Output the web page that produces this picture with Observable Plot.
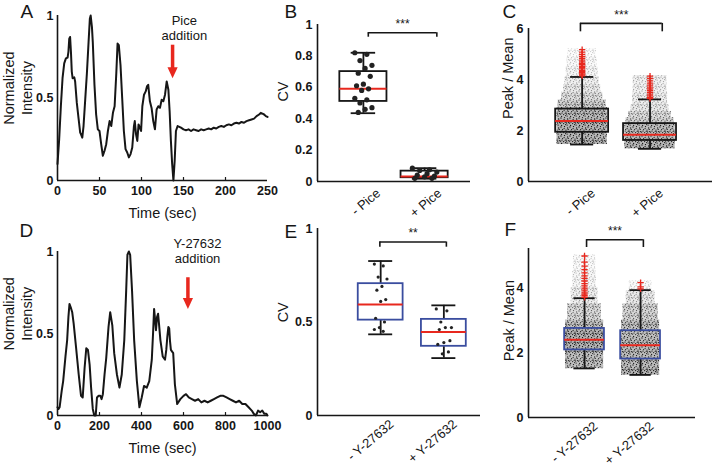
<!DOCTYPE html>
<html><head><meta charset="utf-8">
<script src="https://cdn.jsdelivr.net/npm/d3@7"></script>
<script src="https://cdn.jsdelivr.net/npm/@observablehq/plot@0.6"></script>
<style>
body{margin:0;background:#fff;}
#fig{position:relative;width:712px;height:470px;overflow:hidden;background:#fff;}
#fig svg{position:absolute;}
#fig g[aria-label$="tick label"]{font-weight:bold;}
</style></head><body>
<svg width="0" height="0" style="position:absolute;left:0;top:0">
 <defs>
  <pattern id="speck" width="9" height="9" patternUnits="userSpaceOnUse">
   <g fill="#111">
    <circle cx="1" cy="1" r="0.65"/><circle cx="4.5" cy="0.6" r="0.65"/><circle cx="7.6" cy="2" r="0.65"/>
    <circle cx="2.6" cy="3.6" r="0.65"/><circle cx="6" cy="4.1" r="0.65"/><circle cx="8.5" cy="5.6" r="0.65"/>
    <circle cx="0.6" cy="6.1" r="0.65"/><circle cx="3.6" cy="6.6" r="0.65"/><circle cx="5.6" cy="7.6" r="0.65"/>
    <circle cx="1.6" cy="8.5" r="0.65"/><circle cx="7.1" cy="8.1" r="0.65"/><circle cx="4.1" cy="2.6" r="0.65"/>
    <circle cx="6.6" cy="6" r="0.65"/><circle cx="2" cy="5.1" r="0.65"/><circle cx="8.2" cy="3.4" r="0.65"/>
    <circle cx="5.2" cy="5.3" r="0.65"/>
   </g>
  </pattern>
 </defs>
</svg>
<div id="fig"></div>
<script>
// ---------- DATA ----------
// Panel A: time series (sec, normalized intensity)
const timeA = [0, 2, 4, 6, 8, 10, 12, 13, 14, 15,
  16, 17, 18, 20, 21, 23, 25, 27, 28, 29.5,
  31, 33, 35, 37, 38.5, 39.5, 41, 42, 44, 46,
  48, 50, 52, 54, 56, 58, 60, 62, 64, 66,
  68, 70, 71.5, 73, 75, 77, 79, 81, 83, 85,
  87, 89, 91, 92, 93.5, 95, 96.5, 98, 99.5, 101,
  103, 105, 106.5, 108, 110, 112, 114, 116, 118, 120,
  122, 124, 126, 128, 130, 132, 133.5, 135, 136.5, 138,
  139.5, 141, 143, 145, 147, 150, 153, 156, 159, 162,
  165, 168, 171, 174, 177, 180, 183, 186, 189, 192,
  195, 198, 201, 204, 207, 210, 213, 216, 219, 222,
  225, 228, 231, 234, 237, 240, 242, 244, 246, 248,
  250];
const intensityA = [0.10, 0.25, 0.45, 0.62, 0.71, 0.74, 0.745, 0.78, 0.86, 0.87,
  0.78, 0.66, 0.62, 0.625, 0.60, 0.47, 0.38, 0.29, 0.28, 0.26,
  0.33, 0.49, 0.65, 0.84, 0.98, 1.0, 0.93, 0.84, 0.58, 0.40,
  0.31, 0.30, 0.22, 0.15, 0.18, 0.22, 0.30, 0.36, 0.33, 0.41,
  0.45, 0.65, 0.83, 0.82, 0.70, 0.50, 0.30, 0.19, 0.17, 0.14,
  0.16, 0.20, 0.33, 0.36, 0.28, 0.24, 0.34, 0.32, 0.30, 0.45,
  0.52, 0.54, 0.57, 0.58, 0.48, 0.44, 0.36, 0.31, 0.43, 0.45,
  0.44, 0.49, 0.48, 0.52, 0.60, 0.55, 0.42, 0.24, 0.10, 0.0,
  0.12, 0.30, 0.33, 0.325, 0.32, 0.31, 0.305, 0.31, 0.30, 0.31,
  0.305, 0.30, 0.31, 0.305, 0.31, 0.315, 0.31, 0.32, 0.315, 0.325,
  0.33, 0.325, 0.335, 0.34, 0.335, 0.345, 0.35, 0.345, 0.355, 0.35,
  0.36, 0.365, 0.37, 0.375, 0.39, 0.40, 0.41, 0.405, 0.40, 0.39,
  0.385];
const ticksA = [0, 50, 100, 150, 200, 250];
const arrowA = {x: 137, from: 0.82, tip: 0.62};
const noteA = ["Pice", "addition"];

// Panel D: time series
const timeD = [0, 5, 10, 20, 27, 38, 46, 52, 57, 63,
  70, 77, 88, 101, 112, 120, 129, 137, 145, 153,
  160, 168, 175, 182, 188, 196, 204, 210, 216, 224,
  232, 243, 251, 261, 270, 283, 295, 306, 318, 327,
  333, 340, 346, 355, 365, 378, 390, 401, 412, 425,
  437, 449, 455, 460, 465, 469, 474, 479, 484, 490,
  501, 512, 518, 523, 528, 532, 536, 540, 551, 559,
  570, 585, 600, 612, 625, 640, 655, 670, 685, 700,
  715, 730, 745, 760, 775, 790, 805, 820, 835, 850,
  865, 880, 895, 910, 925, 935, 945, 955, 965, 975,
  985, 995, 1000];
const intensityD = [0.05, 0.04, 0.05, 0.15, 0.21, 0.36, 0.46, 0.60, 0.68, 0.66,
  0.63, 0.56, 0.42, 0.25, 0.12, 0.11, 0.29, 0.41, 0.40, 0.31,
  0.17, 0.04, 0.0, 0.0, 0.11, 0.12, 0.12, 0.10, 0.13, 0.25,
  0.35, 0.54, 0.63, 0.55, 0.38, 0.25, 0.17, 0.25, 0.46, 0.76,
  0.98, 1.0, 0.98, 0.76, 0.46, 0.21, 0.05, 0.11, 0.18, 0.17,
  0.21, 0.34, 0.50, 0.65, 0.58, 0.52, 0.60, 0.62, 0.55, 0.46,
  0.36, 0.34, 0.40, 0.48, 0.54, 0.53, 0.45, 0.40, 0.38, 0.19,
  0.07, 0.10, 0.12, 0.13, 0.11, 0.10, 0.09, 0.10, 0.08, 0.09,
  0.08, 0.09, 0.10, 0.11, 0.12, 0.12, 0.11, 0.10, 0.09, 0.08,
  0.09, 0.07, 0.07, 0.05, 0.03, 0.01, 0.0, 0.03, 0.02, 0.03,
  0.01, 0.01, 0.0];
const ticksD = [0, 200, 400, 600, 800, 1000];
const arrowD = {x: 621, from: 0.84, tip: 0.65};
const noteD = ["Y-27632", "addition"];

// Panel B: CV boxplots (Pice)
const catsB = ["- Pice", "+ Pice"];
const q1B = [0.51, 0.024], medB = [0.59, 0.032], q3B = [0.70, 0.066];
const loB = [0.435, 0.018], hiB = [0.82, 0.085];
const cvB1 = [0.82, 0.81, 0.77, 0.74, 0.72, 0.69, 0.67, 0.62, 0.61, 0.59, 0.58, 0.53, 0.52, 0.50, 0.47, 0.46, 0.44];
const cvB2 = [0.085, 0.075, 0.07, 0.06, 0.05, 0.04, 0.035, 0.03, 0.02, 0.02];
const sigB = "***";

// Panel C: Peak / Mean (Pice)
const catsC = ["- Pice", "+ Pice"];
const q1C = [1.93, 1.61], medC = [2.37, 1.83], q3C = [2.84, 2.27];
const loC = [1.45, 1.28], hiC = [4.1, 3.22];
const cloudC1Edges = [1.45, 1.6, 2.0, 2.5, 2.9, 3.2, 3.5, 3.8, 4.1, 4.5, 4.9, 5.2];
const cloudC1Density = [1.0, 0.95, 1.0, 0.9, 0.6, 0.4, 0.28, 0.2, 0.12, 0.07, 0.03];
const cloudC2Edges = [1.28, 1.45, 1.8, 2.25, 2.5, 2.75, 3.0, 3.5, 4.15];
const cloudC2Density = [1.0, 0.95, 0.9, 0.6, 0.45, 0.3, 0.22, 0.18];
const outC1 = [4.14, 4.18, 4.22, 4.27, 4.31, 4.36, 4.42, 4.47, 4.52, 4.58, 4.63, 4.69, 4.76, 4.83, 4.9, 4.98, 5.07, 5.17];
const outC2 = [3.25, 3.3, 3.36, 3.43, 3.5, 3.57, 3.63, 3.7, 3.78, 3.86, 3.95, 4.04, 4.13];
const sigC = "***";

// Panel E: CV boxplots (Y-27632)
const catsE = ["- Y-27632", "+ Y-27632"];
const q1E = [0.51, 0.37], medE = [0.593, 0.446], q3E = [0.705, 0.514];
const loE = [0.434, 0.307], hiE = [0.826, 0.589];
const cvE1 = [0.81, 0.80, 0.74, 0.73, 0.69, 0.67, 0.62, 0.61, 0.52, 0.50, 0.47, 0.46, 0.45];
const cvE2 = [0.57, 0.56, 0.50, 0.47, 0.47, 0.46, 0.40, 0.39, 0.38, 0.34, 0.33];
const sigE = "**";

// Panel F: Peak / Mean (Y-27632)
const catsF = ["- Y-27632", "+ Y-27632"];
const q1F = [2.08, 1.80], medF = [2.39, 2.22], q3F = [2.74, 2.67];
const loF = [1.51, 1.31], hiF = [3.67, 3.92];
const cloudF1Edges = [1.5, 2.0, 2.75, 3.0, 3.5, 4.0, 4.5, 5.0];
const cloudF1Density = [0.85, 1.0, 0.8, 0.5, 0.22, 0.1, 0.05];
const cloudF2Edges = [1.3, 1.5, 2.0, 2.5, 3.0, 3.5, 3.9, 4.2];
const cloudF2Density = [1.0, 0.9, 0.9, 0.8, 0.55, 0.3, 0.06];
const outF1 = [3.7, 3.75, 3.8, 3.86, 3.92, 3.98, 4.05, 4.12, 4.2, 4.28, 4.36, 4.45, 4.55, 4.66, 4.78, 4.97];
const outF2 = [3.96, 4.02, 4.15];
const sigF = "***";

// ---------- STYLE / HELPERS ----------
const FONT = '"Liberation Sans", Arial, Helvetica, sans-serif';
const INK = "#161616", RED = "#e8281e", BLUE = "#3a4d9f";
const fig = document.getElementById("fig");
const baseStyle = {fontFamily: FONT, fontSize: "12px", background: "transparent", overflow: "visible", color: INK};
const downTri = {draw(ctx, size) { const s = Math.sqrt(size); ctx.moveTo(0, 0); ctx.lineTo(-0.8 * s, -1.7 * s); ctx.lineTo(0.8 * s, -1.7 * s); ctx.closePath(); }};

function place(svg, left, top) { svg.style.left = left + "px"; svg.style.top = top + "px"; fig.appendChild(svg); }
function letter(t, dx, dy) { return Plot.text([t], {frameAnchor: "top-left", textAnchor: "start", lineAnchor: "bottom", dx, dy, fontSize: 19, fill: INK}); }
function yTitle(t, y, dx, lh = 1.25) { return Plot.text([t], {frameAnchor: "left", y: [y], dx, rotate: -90, textAnchor: "middle", lineAnchor: "middle", fontSize: 14.5, lineHeight: lh, fill: INK}); }
function catLabels(cats, dx, dy) { return Plot.text(cats, {x: (d, i) => i + 1, frameAnchor: "bottom", rotate: -40, textAnchor: "end", lineAnchor: "top", dx, dy, fontSize: 13, fill: INK}); }
function jit(i, w) { return (((i * 7) % 11) - 5) / 5 * w; }

function boxes(q1, med, q3, lo, hi, half, cap, boxStroke) {
  const rows = q1.map((_, i) => ({x: i + 1, q1: q1[i], med: med[i], q3: q3[i], lo: lo[i], hi: hi[i]}));
  const sw = 1.8;
  return [
    Plot.ruleX(rows, {x: "x", y1: "q3", y2: "hi", stroke: INK, strokeWidth: sw}),
    Plot.ruleX(rows, {x: "x", y1: "lo", y2: "q1", stroke: INK, strokeWidth: sw}),
    Plot.ruleY(rows, {y: "hi", x1: d => d.x - cap, x2: d => d.x + cap, stroke: INK, strokeWidth: sw}),
    Plot.ruleY(rows, {y: "lo", x1: d => d.x - cap, x2: d => d.x + cap, stroke: INK, strokeWidth: sw}),
    Plot.rect(rows, {x1: d => d.x - half, x2: d => d.x + half, y1: "q1", y2: "q3", fill: "none", stroke: boxStroke, strokeWidth: sw}),
    Plot.ruleY(rows, {y: "med", x1: d => d.x - half, x2: d => d.x + half, stroke: RED, strokeWidth: 2})
  ];
}
function cloud(edges, dens, cat, half) {
  const rows = dens.map((d, i) => ({y1: edges[i], y2: edges[i + 1], d}));
  const w = r => half * (0.55 + 0.45 * Math.min(1, r.d * 1.5));
  return [
    Plot.rect(rows, {x1: r => cat - w(r), x2: r => cat + w(r), y1: "y1", y2: "y2", fill: "#6a6a6a", fillOpacity: r => 0.5 * r.d}),
    Plot.rect(rows, {x1: r => cat - w(r), x2: r => cat + w(r), y1: "y1", y2: "y2", fill: "url(#speck)", fillOpacity: r => Math.min(1, 0.2 + 0.8 * r.d)})
  ];
}
function bracket(x1, x2, y, drop, label, ly, fs = 12) {
  return [
    Plot.ruleY([y], {x1: x1, x2: x2, stroke: INK, strokeWidth: 1.6}),
    Plot.ruleX([x1, x2], {x: d => d, y1: y - drop, y2: y, stroke: INK, strokeWidth: 1.6}),
    Plot.text([label], {x: [(x1 + x2) / 2], y: [ly], fontSize: fs, fill: INK})
  ];
}
function tsPanel(time, vals, ticks, arrow, note, noteX, noteY1, noteY2, L, titleY, titleDX) {
  return [
    Plot.axisX({ticks, tickSize: 0, tickPadding: 6, tickFormat: d => String(d), fontWeight: "bold", fontSize: 12.5, label: null}),
    Plot.axisY({ticks: [0, 0.5, 1], tickSize: 0, tickPadding: 4, tickFormat: d => String(d), fontWeight: "bold", fontSize: 12.5, label: null}),
    Plot.ruleX([0], {stroke: INK, strokeWidth: 1.6}),
    Plot.ruleY([0], {stroke: INK, strokeWidth: 1.6}),
    Plot.ruleX(ticks.slice(1, -1), {x: d => d, y1: 0, y2: 0.018, stroke: INK, strokeWidth: 1.2}),
    Plot.line(time, {x: time, y: vals, stroke: INK, strokeWidth: 2, strokeLinejoin: "round"}),
    Plot.ruleX([arrow.x], {x: d => d, y1: arrow.tip + 0.05, y2: arrow.from, stroke: RED, strokeWidth: 3.5}),
    Plot.dot([arrow.x], {x: d => d, y: [arrow.tip], symbol: downTri, r: 3.6, fill: RED, stroke: "none"}),
    Plot.text([note[0]], {x: [noteX], y: [noteY1], lineAnchor: "bottom", fontSize: 13, fill: INK}),
    Plot.text([note[1]], {x: [noteX], y: [noteY2], lineAnchor: "bottom", fontSize: 13, fill: INK}),
    Plot.text(["Time (sec)"], {frameAnchor: "bottom", lineAnchor: "bottom", dy: 37, fontSize: 14.5, fill: INK}),
    yTitle("Normalized\nIntensity", titleY, titleDX),
    letter(L.t, L.dx, L.dy)
  ];
}

// ---------- PANEL A ----------
place(Plot.plot({
  width: 285, height: 235, marginLeft: 57, marginRight: 18, marginTop: 15, marginBottom: 55,
  style: baseStyle, x: {domain: [0, 250]}, y: {domain: [0, 1]},
  marks: tsPanel(timeA, intensityA, ticksA, arrowA, noteA, 151, 0.94, 0.85, {t: "A", dx: -37, dy: 2}, 0.56, -40)
}), 0, 0);

// ---------- PANEL D ----------
place(Plot.plot({
  width: 285, height: 235, marginLeft: 57, marginRight: 18, marginTop: 16, marginBottom: 55,
  style: baseStyle, x: {domain: [0, 1000]}, y: {domain: [0, 1]},
  marks: tsPanel(timeD, intensityD, ticksD, arrowD, noteD, 667, 1.02, 0.93, {t: "D", dx: -38, dy: -15}, 0.62, -40)
}), 0, 235);

// ---------- PANEL B ----------
place(Plot.plot({
  width: 215, height: 235, marginLeft: 57, marginRight: 5, marginTop: 24, marginBottom: 54,
  style: baseStyle, x: {domain: [0.25, 2.75], axis: null}, y: {domain: [0, 1]},
  marks: [
    Plot.axisY({ticks: [0, 0.2, 0.4, 0.6, 0.8, 1], tickSize: 0, tickPadding: 5, tickFormat: d => String(d), fontWeight: "bold", fontSize: 12.5, label: null}),
    Plot.ruleX([0.25], {stroke: INK, strokeWidth: 1.6}),
    Plot.ruleY([0], {stroke: INK, strokeWidth: 1.6}),
    ...boxes(q1B, medB, q3B, loB, hiB, 0.385, 0.2, INK),
    Plot.dot(cvB1, {x: (d, i) => 1 + jit(i, 0.14), y: d => d, r: 2.6, fill: "#222", stroke: "none"}),
    Plot.dot(cvB2, {x: (d, i) => 2 + jit(i, 0.2), y: d => d, r: 2.6, fill: "#222", stroke: "none"}),
    ...bracket(1.08, 2.2, 0.947, 0.028, sigB, 1.0),
    catLabels(catsB, 12, 6),
    yTitle("CV", 0.573, -35),
    letter("B", -33, -7)
  ]
}), 260, 0);

// ---------- PANEL C ----------
place(Plot.plot({
  width: 242, height: 235, marginLeft: 58, marginRight: 0, marginTop: 28, marginBottom: 54,
  style: baseStyle, x: {domain: [0.21, 2.92], axis: null}, y: {domain: [0, 6]},
  marks: [
    Plot.axisY({ticks: [0, 2, 4, 6], tickSize: 0, tickPadding: 5, tickFormat: d => String(d), fontWeight: "bold", fontSize: 12.5, label: null}),
    Plot.ruleX([0.21], {stroke: INK, strokeWidth: 1.6}),
    Plot.ruleY([0], {stroke: INK, strokeWidth: 1.6}),
    ...cloud(cloudC1Edges, cloudC1Density, 1, 0.37),
    ...cloud(cloudC2Edges, cloudC2Density, 2, 0.37),
    ...boxes(q1C, medC, q3C, loC, hiC, 0.39, 0.17, INK),
    Plot.dot(outC1, {x: () => 1, y: d => d, symbol: "plus", r: 2.2, stroke: RED, strokeWidth: 1.3}),
    Plot.dot(outC2, {x: () => 2, y: d => d, symbol: "plus", r: 2.2, stroke: RED, strokeWidth: 1.3}),
    ...bracket(0.975, 2.18, 6.2, 0.33, sigC, 6.52),
    catLabels(catsC, 8, 6),
    yTitle("Peak / Mean", 4.05, -21),
    letter("C", -26, -11)
  ]
}), 470, 0);

// ---------- PANEL E ----------
place(Plot.plot({
  width: 225, height: 250, marginLeft: 57, marginRight: 5, marginTop: 8, marginBottom: 55,
  style: baseStyle, x: {domain: [0, 2.58], axis: null}, y: {domain: [0, 1]},
  marks: [
    Plot.axisY({ticks: [0, 0.5, 1], tickSize: 0, tickPadding: 5, tickFormat: d => String(d), fontWeight: "bold", fontSize: 12.5, label: null}),
    Plot.ruleX([0], {stroke: INK, strokeWidth: 1.6}),
    Plot.ruleY([0], {stroke: INK, strokeWidth: 1.6}),
    ...boxes(q1E, medE, q3E, loE, hiE, 0.355, 0.19, BLUE),
    Plot.dot(cvE1, {x: (d, i) => 1 + jit(i, 0.1), y: d => d, r: 1.6, fill: "#222", stroke: "none"}),
    Plot.dot(cvE2, {x: (d, i) => 2 + jit(i, 0.12), y: d => d, r: 1.6, fill: "#222", stroke: "none"}),
    ...bracket(0.987, 2.04, 0.928, 0.028, sigE, 0.975),
    catLabels(catsE, 8, 3),
    yTitle("CV", 0.552, -35),
    letter("E", -33, 9)
  ]
}), 260, 220);

// ---------- PANEL F ----------
place(Plot.plot({
  width: 242, height: 250, marginLeft: 58, marginRight: 17, marginTop: 28, marginBottom: 53,
  style: baseStyle, x: {domain: [0, 2.98], axis: null}, y: {domain: [0, 5.2]},
  marks: [
    Plot.axisY({ticks: [0, 2, 4], tickSize: 0, tickPadding: 5, tickFormat: d => String(d), fontWeight: "bold", fontSize: 12.5, label: null}),
    Plot.ruleX([0], {stroke: INK, strokeWidth: 1.6}),
    Plot.ruleY([0], {stroke: INK, strokeWidth: 1.6}),
    ...cloud(cloudF1Edges, cloudF1Density, 1, 0.34),
    ...cloud(cloudF2Edges, cloudF2Density, 2, 0.34),
    ...boxes(q1F, medF, q3F, loF, hiF, 0.355, 0.19, BLUE),
    Plot.dot(outF1, {x: () => 1, y: d => d, symbol: "plus", r: 2.2, stroke: RED, strokeWidth: 1.3}),
    Plot.dot(outF2, {x: () => 2, y: d => d, symbol: "plus", r: 2.2, stroke: RED, strokeWidth: 1.3}),
    ...bracket(1.036, 2.05, 5.47, 0.24, sigF, 5.72),
    catLabels(catsF, 8, 3),
    yTitle("Peak / Mean", 2.98, -20),
    letter("F", -24, -13)
  ]
}), 470, 220);
</script></body></html>
